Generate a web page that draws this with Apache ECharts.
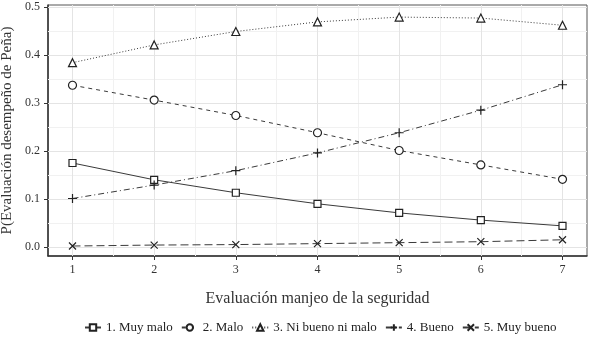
<!DOCTYPE html>
<html><head><meta charset="utf-8">
<script src="https://cdn.jsdelivr.net/npm/echarts@6/dist/echarts.min.js"></script>
<style>html,body{margin:0;padding:0;background:#fff}#c{width:589px;height:340px}</style>
</head><body><div id="c"></div>
<script>
const categories = [1, 2, 3, 4, 5, 6, 7];
const muyMalo   = [0.175, 0.140, 0.113, 0.090, 0.071, 0.056, 0.044];
const malo      = [0.337, 0.306, 0.274, 0.238, 0.201, 0.171, 0.141];
const niBueno   = [0.384, 0.421, 0.449, 0.469, 0.479, 0.477, 0.462];
const bueno     = [0.101, 0.129, 0.159, 0.196, 0.238, 0.285, 0.338];
const muyBueno  = [0.002, 0.004, 0.005, 0.007, 0.009, 0.011, 0.015];
const seriesNames = ['1. Muy malo', '2. Malo', '3. Ni bueno ni malo', '4. Bueno', '5. Muy bueno'];
const yTicks = [0, 0.1, 0.2, 0.3, 0.4, 0.5];
const yMinor = [0.05, 0.15, 0.25, 0.35, 0.45];
const xTicks = [1, 2, 3, 4, 5, 6, 7];
const xMinor = [1.5, 2.5, 3.5, 4.5, 5.5, 6.5];

const FONT = 'Liberation Serif';
const plus = 'path://M0,5 L10,5 M5,0 L5,10';
const cross = 'path://M0,0 L10,10 M10,0 L0,10';

const styles = [
  {data: muyMalo, symbol: 'rect', dash: 'solid', size: 7},
  {data: malo, symbol: 'circle', dash: [4, 4], size: 8},
  {data: niBueno, symbol: 'triangle', dash: [1, 2], size: 8},
  {data: bueno, symbol: plus, dash: [6, 3, 1, 3], size: 9},
  {data: muyBueno, symbol: cross, dash: [8, 4], size: 7}
];

const series = styles.map((s, i) => ({
  name: seriesNames[i],
  type: 'line',
  data: categories.map((c, j) => [c, s.data[j]]),
  symbol: s.symbol,
  symbolSize: s.size,
  showAllSymbol: true,
  lineStyle: {color: '#3a3a3a', width: 1, type: s.dash},
  itemStyle: {color: '#fff', borderColor: '#222', borderWidth: 1.2},
  emphasis: {disabled: true},
  z: 5
}));

const gridMajor = {color: '#e4e4e4', width: 1, type: 'solid'};
const gridMinor = {color: '#f1f1f1', width: 1, type: 'solid'};
series.unshift({
  type: 'line', data: [], silent: true, z: 1,
  markLine: {
    silent: true, symbol: 'none', label: {show: false}, animation: false,
    data: [
      ...yMinor.map(v => ({yAxis: v, lineStyle: gridMinor})),
      ...xMinor.map(v => ({xAxis: v, lineStyle: gridMinor})),
      ...yTicks.map(v => ({yAxis: v, lineStyle: gridMajor})),
      ...xTicks.map(v => ({xAxis: v, lineStyle: gridMajor}))
    ]
  }
});

const chart = echarts.init(document.getElementById('c'), null, {renderer: 'canvas'});
chart.setOption({
  animation: false,
  backgroundColor: '#fff',
  textStyle: {fontFamily: FONT},
  grid: {left: 48, top: 5, right: 2, bottom: 84, show: true, borderColor: '#555', borderWidth: 1,
    containLabel: false, outerBoundsMode: 'none'},
  xAxis: {
    type: 'value', min: 0.7, max: 7.3,
    name: 'Evaluación manjeo de la seguridad', nameLocation: 'middle', nameGap: 35,
    nameTextStyle: {fontFamily: FONT, fontSize: 16, color: '#333'},
    axisLine: {show: true, onZero: false, lineStyle: {color: '#333', width: 1.5}},
    axisTick: {show: true, length: 4, lineStyle: {color: '#333'}, customValues: xTicks},
    axisLabel: {customValues: xTicks, fontFamily: FONT, fontSize: 12, color: '#333', margin: 8},
    splitLine: {show: false}
  },
  yAxis: {
    type: 'value', min: -0.0188, max: 0.5042,
    name: 'P(Evaluación desempeño de Peña)', nameLocation: 'middle', nameGap: 26, nameRotate: 90,
    nameTextStyle: {fontFamily: FONT, fontSize: 15, color: '#333'},
    axisLine: {show: true, onZero: false, lineStyle: {color: '#333', width: 1.5}},
    axisTick: {show: true, length: 4, lineStyle: {color: '#333'}, customValues: yTicks},
    axisLabel: {customValues: yTicks, fontFamily: FONT, fontSize: 12, color: '#333', margin: 8,
      formatter: v => v.toFixed(1)},
    splitLine: {show: false}
  },
  legend: {
    data: seriesNames, bottom: 1, left: 79, itemWidth: 16, itemHeight: 8, itemGap: 8,
    textStyle: {fontFamily: FONT, fontSize: 13, color: '#222'}
  },
  series: series
});
</script></body></html>
